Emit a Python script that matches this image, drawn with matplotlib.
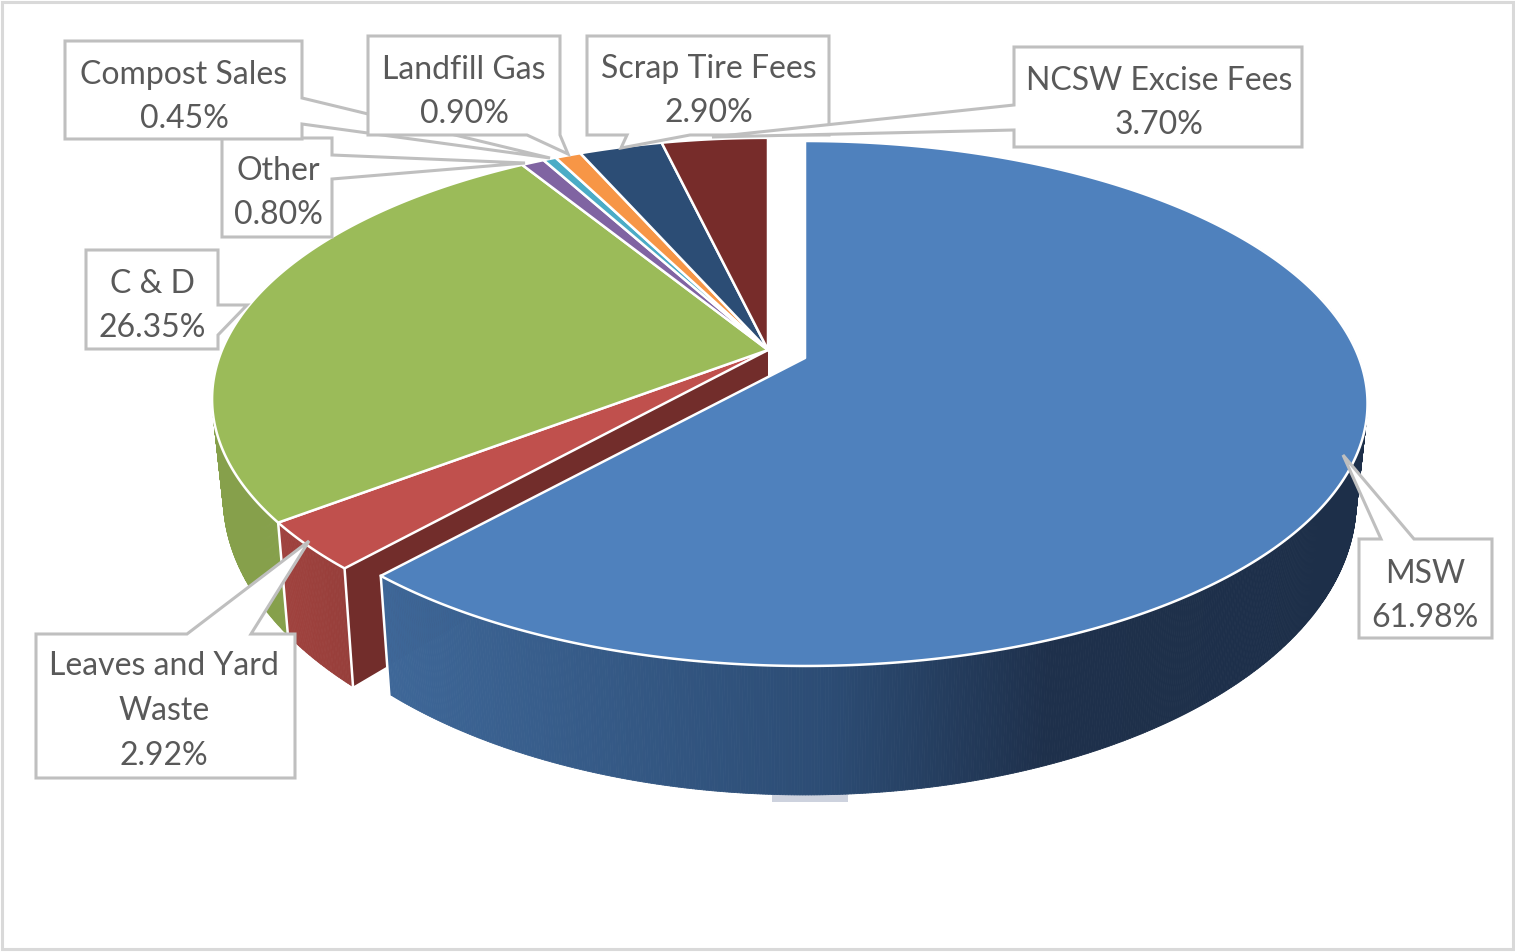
import numpy as np
from matplotlib import pyplot as plt
from matplotlib.collections import PolyCollection
from matplotlib.patches import Polygon, Rectangle

# values, clockwise from twelve o'clock
names = ["MSW", "Leaves and Yard\nWaste", "C & D", "Other", "Compost Sales",
         "Landfill Gas", "Scrap Tire Fees", "NCSW Excise Fees"]
shares = [61.98, 2.92, 26.35, 0.80, 0.45, 0.90, 2.90, 3.70]
top_colors = ["#4f81bd", "#c0504d", "#9bbb59", "#8064a2", "#4bacc6",
              "#f79646", "#2c4d75", "#772c2a"]

# perspective of the disc, in pixels
REST = dict(cx=768, cy=350, a=546, b=252, k=0.188)
MSW = dict(cx=805, cy=358, a=554, b=254.6, k=0.1733)
DZ, SHRINK_X, STRETCH_Y = 92, 0.02, 0.12

TEXT = "#595959"
LINE = "#bfbfbf"


def project(theta, view, r=1.0, z=0.0):
    # the source renderer is a little off the true angles near the lower left
    theta = np.radians(np.interp(theta, [0, 223.1, 233.6, 328.5, 360],
                                 [0, 221.8, 232.6, 328.5, 360]))
    x, y = r * np.sin(theta), r * np.cos(theta)
    w = 1 + view["k"] * y
    return (view["cx"] + view["a"] * x / w * (1 - SHRINK_X * z),
            view["cy"] - view["b"] * y / w * (1 + STRETCH_Y * z) + DZ * z)


def arc(t0, t1, view):
    t = np.linspace(t0, t1, max(int(abs(t1 - t0) * 2), 2))
    return np.column_stack(project(t, view))


def wall(ax, t0, t1, view, color_at, zorder):
    t = np.arange(t0, t1 + 0.25, 0.25)
    t[-1] = t1
    top = np.column_stack(project(t, view))
    bot = np.column_stack(project(t, view, 1.0, 1.0))
    quads = [[top[i], top[i + 1], bot[i + 1], bot[i]] for i in range(len(t) - 1)]
    colors = [color_at(q[0][0]) for q in quads]
    ax.add_collection(PolyCollection(quads, facecolors=colors, edgecolors=colors,
                                     linewidths=0.6, zorder=zorder))


def lerp_color(xs, cols):
    cols = np.array(cols) / 255
    return lambda x: tuple(np.interp(x, xs, cols[:, i]) for i in range(3))


def edge(ax, theta, view, zorder):
    p0, p1 = project(theta, view), project(theta, view, 1.0, 1.0)
    ax.plot([p0[0], p1[0]], [p0[1], p1[1]], color="white", lw=1.8, zorder=zorder)


fig = plt.figure(figsize=(15.15, 9.52), dpi=100)
ax = fig.add_axes([0, 0, 1, 1])
ax.set_xlim(0, 1515)
ax.set_ylim(952, 0)
ax.axis("off")

ax.add_patch(Rectangle((2, 2), 1511, 947, fc="white", ec="#d9d9d9", lw=2.2, zorder=0))
ax.add_patch(Rectangle((772, 790), 76, 12, fc="#cdd2de", ec="none", zorder=1))

ends = np.cumsum(shares) * 3.6
starts = np.concatenate(([0], ends[:-1]))

# side walls, back to front
wall(ax, starts[2], 290, REST, lambda x: "#86a04b", 2)
wall(ax, starts[1], ends[1], REST,
     lerp_color([280, 350], [(160, 66, 62), (150, 62, 58)]), 3)
wall(ax, 60, ends[0], MSW,
     lerp_color([385, 830, 1050, 1360],
                [(62, 103, 152), (44, 76, 116), (30, 48, 75), (29, 47, 73)]), 6)

# cut face of the leaves slice that looks at the MSW slice
corner_top = project(ends[0], REST)
corner_bot = project(ends[0], REST, 1.0, 1.0)
apex_top = project(0, REST, 0.0)
apex_bot = project(0, REST, 0.0, 1.0)
ax.add_patch(Polygon([apex_top, corner_top, corner_bot, apex_bot], fc="#722d2b",
                     ec="none", zorder=4))
edge(ax, ends[0], REST, 5)
edge(ax, ends[1], REST, 5)
edge(ax, ends[0], MSW, 6.5)

# tops of the slices
for i, (t0, t1) in enumerate(zip(starts, ends)):
    view = MSW if i == 0 else REST
    pts = np.vstack([[project(0, view, 0.0)], arc(t0, t1, view)])
    ax.add_patch(Polygon(pts, fc=top_colors[i], ec="white", lw=1.8,
                         joinstyle="round", zorder=7))

# data labels with their callouts
boxes = [
    # outline of the box with its pointer, then where the two text lines sit
    ([(1359, 539), (1381, 539), (1343, 455), (1414, 539), (1492, 539), (1492, 638), (1359, 638)],
     (1425, 596)),
    ([(36, 634), (187, 634), (309, 541), (251, 634), (295, 634), (295, 778), (36, 778)],
     (164, 711)),
    ([(86, 250), (218, 250), (218, 305), (247, 305), (218, 335), (218, 349), (86, 349)],
     (152, 306)),
    ([(222, 138), (332, 138), (332, 155), (525, 163), (332, 179), (332, 237), (222, 237)],
     (278, 193)),
    ([(65, 41), (302, 41), (302, 98), (550, 158), (302, 124), (302, 139), (65, 139)],
     (184, 97)),
    ([(368, 36), (560, 36), (560, 135), (568, 154), (527, 135), (368, 135)],
     (464, 92)),
    ([(587, 36), (829, 36), (829, 135), (690, 135), (621, 148), (627, 135), (587, 135)],
     (709, 91)),
    ([(1014, 47), (1302, 47), (1302, 147), (1014, 147), (1014, 130), (712, 137), (1014, 105)],
     (1159, 103)),
]
for i, (outline, center) in enumerate(boxes):
    ax.add_patch(Polygon(outline, fc="white", ec=LINE, lw=2.2, joinstyle="miter",
                         zorder=10 + i))
    ax.text(center[0], center[1], f"{names[i]}\n{shares[i]:.2f}%", ha="center",
            va="center", color=TEXT, fontsize=23, family="Lato", linespacing=1.62,
            zorder=10 + i)

fig.savefig("out.png", dpi=100)
